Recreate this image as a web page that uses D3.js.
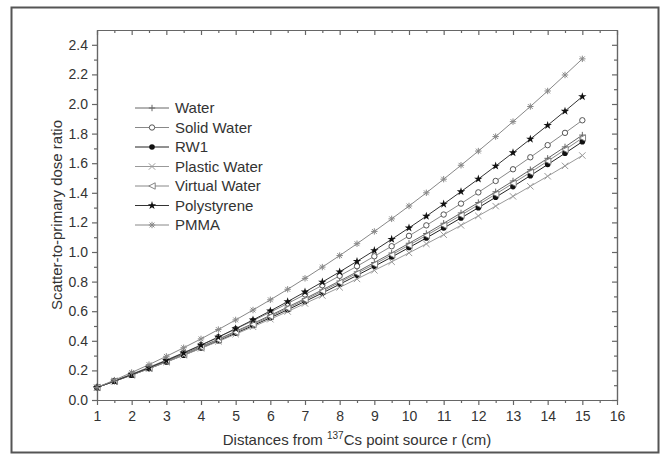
<!DOCTYPE html>
<html>
<head>
<meta charset="utf-8">
<script src="https://cdn.jsdelivr.net/npm/d3@7"></script>
<style>
  body { margin: 0; background: #fff; }
  text { font-family: Arial, "Liberation Sans", sans-serif; fill: #333; }
</style>
</head>
<body>
<svg id="graph" width="661" height="457"></svg>
<script>
const w = 661;
const h = 457;
const plotLeft = 97, plotRight = 617, plotTop = 30, plotBottom = 400;

// distances r (cm)
const distances = [1,1.5,2,2.5,3,3.5,4,4.5,5,5.5,6,6.5,7,7.5,8,8.5,9,9.5,10,10.5,11,11.5,12,12.5,13,13.5,14,14.5,15];

const seriesNames = ['Water','Solid Water','RW1','Plastic Water','Virtual Water','Polystyrene','PMMA'];

const water = [0.085,0.128,0.171,0.217,0.263,0.311,0.361,0.411,0.464,0.517,0.572,0.628,0.685,0.744,0.804,0.866,0.929,0.993,1.059,1.125,1.194,1.264,1.334,1.407,1.480,1.556,1.633,1.710,1.790];
const solidWater = [0.085,0.129,0.175,0.222,0.270,0.320,0.372,0.425,0.480,0.536,0.593,0.652,0.713,0.775,0.839,0.904,0.971,1.039,1.109,1.180,1.253,1.327,1.403,1.480,1.559,1.640,1.722,1.805,1.890];
const rw1 = [0.085,0.126,0.168,0.212,0.257,0.303,0.351,0.400,0.451,0.503,0.556,0.610,0.666,0.723,0.782,0.842,0.903,0.966,1.030,1.095,1.162,1.230,1.299,1.370,1.442,1.516,1.591,1.667,1.745];
const plasticWater = [0.085,0.126,0.169,0.212,0.256,0.302,0.349,0.396,0.445,0.495,0.546,0.598,0.652,0.706,0.761,0.818,0.876,0.934,0.994,1.055,1.117,1.180,1.244,1.310,1.376,1.444,1.512,1.582,1.652];
const virtualWater = [0.085,0.127,0.170,0.215,0.261,0.308,0.356,0.406,0.458,0.511,0.565,0.620,0.677,0.735,0.795,0.856,0.917,0.981,1.046,1.112,1.180,1.249,1.319,1.391,1.464,1.538,1.614,1.691,1.770];
const polystyrene = [0.085,0.127,0.172,0.218,0.267,0.318,0.370,0.425,0.482,0.541,0.602,0.665,0.730,0.797,0.866,0.937,1.010,1.086,1.163,1.242,1.324,1.408,1.493,1.581,1.671,1.763,1.856,1.952,2.050];
const pmma = [0.085,0.134,0.186,0.239,0.295,0.353,0.413,0.476,0.541,0.608,0.677,0.748,0.822,0.898,0.976,1.056,1.139,1.224,1.311,1.400,1.492,1.586,1.682,1.780,1.881,1.983,2.088,2.196,2.305];

const xTicks = [1,2,3,4,5,6,7,8,9,10,11,12,13,14,15,16];
const yTicks = [0,0.2,0.4,0.6,0.8,1.0,1.2,1.4,1.6,1.8,2.0,2.2,2.4];

const allValues = [water, solidWater, rw1, plasticWater, virtualWater, polystyrene, pmma];
const lineColors = ['#666','#888','#222','#999','#888','#333','#888'];
const markerTypes = ['plus','circleOpen','circleFilled','cross','triangleLeft','star','asterisk'];

var xScale, yScale;
const svg = d3.select('#graph');

function generateScales(){
  xScale = d3.scaleLinear().domain([1,16]).range([plotLeft, plotRight]);
  yScale = d3.scaleLinear().domain([0,2.5]).range([plotBottom, plotTop]);
}

function generateFrame(){
  svg.append('rect')
    .attr('x', 11.5).attr('y', 7.5)
    .attr('width', 647).attr('height', 445)
    .attr('fill', 'none').attr('stroke', '#555').attr('stroke-width', 2);
}

function styleAxis(g){
  g.selectAll('path, line').attr('stroke', '#666').attr('stroke-width', 1.2);
  g.selectAll('text').style('font-size', '14px').attr('fill', '#333')
    .style('font-family', 'Arial, "Liberation Sans", sans-serif');
}

function generateAxis(){
  const xMinor = d3.range(1.5, 16, 1);
  const yMinor = d3.range(0.1, 2.5, 0.2);

  // bottom
  svg.append('g').attr('transform', `translate(0,${plotBottom})`)
    .call(d3.axisBottom(xScale).tickValues(xMinor).tickSize(3).tickFormat('').tickSizeOuter(0))
    .call(styleAxis);
  svg.append('g').attr('id','x-axis').attr('transform', `translate(0,${plotBottom})`)
    .call(d3.axisBottom(xScale).tickValues(xTicks).tickSize(5).tickPadding(6).tickFormat(d3.format('d')).tickSizeOuter(0))
    .call(styleAxis);
  // top (mirror, inward)
  svg.append('g').attr('transform', `translate(0,${plotTop})`)
    .call(d3.axisBottom(xScale).tickValues(xMinor).tickSize(3).tickFormat('').tickSizeOuter(0))
    .call(styleAxis);
  svg.append('g').attr('transform', `translate(0,${plotTop})`)
    .call(d3.axisBottom(xScale).tickValues(xTicks).tickSize(5).tickFormat('').tickSizeOuter(0))
    .call(styleAxis);
  // left
  svg.append('g').attr('transform', `translate(${plotLeft},0)`)
    .call(d3.axisLeft(yScale).tickValues(yMinor).tickSize(3).tickFormat('').tickSizeOuter(0))
    .call(styleAxis);
  svg.append('g').attr('id','y-axis').attr('transform', `translate(${plotLeft},0)`)
    .call(d3.axisLeft(yScale).tickValues(yTicks).tickSize(5).tickPadding(4).tickFormat(d3.format('.1f')).tickSizeOuter(0))
    .call(styleAxis);
  // right (mirror, inward)
  svg.append('g').attr('transform', `translate(${plotRight},0)`)
    .call(d3.axisLeft(yScale).tickValues(yMinor).tickSize(3).tickFormat('').tickSizeOuter(0))
    .call(styleAxis);
  svg.append('g').attr('transform', `translate(${plotRight},0)`)
    .call(d3.axisLeft(yScale).tickValues(yTicks).tickSize(5).tickFormat('').tickSizeOuter(0))
    .call(styleAxis);

  // axis titles
  const xt = svg.append('text')
    .attr('x', (plotLeft+plotRight)/2).attr('y', 445)
    .attr('text-anchor', 'middle').style('font-size', '15px');
  xt.append('tspan').text('Distances from ');
  xt.append('tspan').text('137').style('font-size', '10px').attr('dy', -6);
  xt.append('tspan').text('Cs point source r (cm)').attr('dy', 6);

  svg.append('text')
    .attr('transform', `translate(62,${(plotTop+plotBottom)/2}) rotate(-90)`)
    .attr('text-anchor', 'middle').style('font-size', '15px')
    .text('Scatter-to-primary dose ratio');
}

function drawMarker(g, type, color){
  const s = 3.2;
  if(type === 'plus'){
    g.append('path').attr('d', `M0,${-s}V${s}M${-s},0H${s}`).attr('stroke', color).attr('stroke-width', 1).attr('fill','none');
  } else if(type === 'circleOpen'){
    g.append('circle').attr('r', 2.7).attr('fill', '#fff').attr('stroke', '#444').attr('stroke-width', 0.9);
  } else if(type === 'circleFilled'){
    g.append('circle').attr('r', 2.8).attr('fill', '#111');
  } else if(type === 'cross'){
    g.append('path').attr('d', `M${-s},${-s}L${s},${s}M${-s},${s}L${s},${-s}`).attr('stroke', color).attr('stroke-width', 1).attr('fill','none');
  } else if(type === 'triangleLeft'){
    g.append('path').attr('d', `M${-s},0L${s},${-s}L${s},${s}Z`).attr('stroke', '#777').attr('stroke-width', 0.9).attr('fill','#fff');
  } else if(type === 'star'){
    g.append('path').attr('d', d3.symbol().type(d3.symbolStar).size(22)()).attr('fill', '#111');
  } else if(type === 'asterisk'){
    g.append('path').attr('d', `M0,${-s}V${s}M${-s},0H${s}M${-s*0.75},${-s*0.75}L${s*0.75},${s*0.75}M${-s*0.75},${s*0.75}L${s*0.75},${-s*0.75}`)
      .attr('stroke', '#888').attr('stroke-width', 1).attr('fill','none');
  }
}

function generateLines(){
  const line = d3.line().x(d => xScale(d[0])).y(d => yScale(d[1]));
  allValues.forEach(function(vals, i){
    const pts = distances.map((x, j) => [x, vals[j]]);
    svg.append('path').datum(pts)
      .attr('class', 'series')
      .attr('d', line)
      .attr('fill', 'none')
      .attr('stroke', lineColors[i])
      .attr('stroke-width', 1);
  });
  allValues.forEach(function(vals, i){
    distances.forEach(function(x, j){
      const g = svg.append('g').attr('transform', `translate(${xScale(x)},${yScale(vals[j])})`);
      drawMarker(g, markerTypes[i], lineColors[i]);
    });
  });
}

function generateLegend(){
  const lg = svg.append('g').attr('transform', 'translate(135,108)');
  seriesNames.forEach(function(name, i){
    const row = lg.append('g').attr('transform', `translate(0,${i*19.5})`);
    row.append('line').attr('x1', 0).attr('x2', 34).attr('y1', 0).attr('y2', 0)
      .attr('stroke', lineColors[i]).attr('stroke-width', 1);
    drawMarker(row.append('g').attr('transform', 'translate(17,0)'), markerTypes[i], lineColors[i]);
    row.append('text').attr('x', 40).attr('y', 5).style('font-size', '15px').text(name);
  });
}

generateScales();
generateFrame();
generateAxis();
generateLines();
generateLegend();
</script>
</body>
</html>
